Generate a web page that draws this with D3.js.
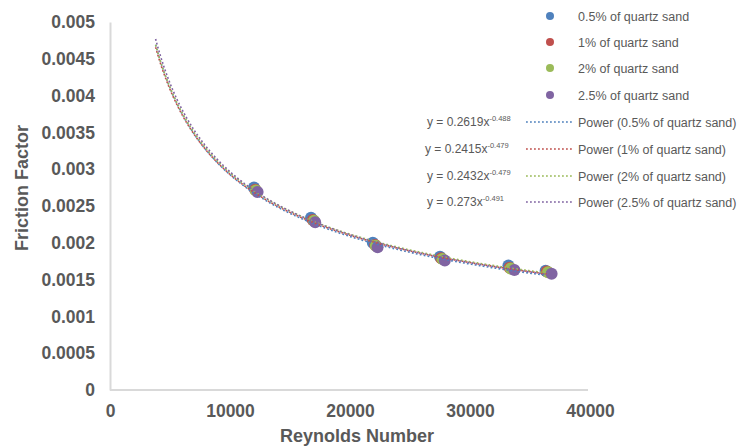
<!DOCTYPE html>
<html>
<head>
<meta charset="utf-8">
<script src="https://cdn.jsdelivr.net/npm/d3@7"></script>
<style>
  body { margin: 0; background: #fff; }
  svg { font-family: "Liberation Sans", Arial, sans-serif; }
</style>
</head>
<body>
<svg id="chart"></svg>
<script>
// series names and measured points (Reynolds number, friction factor)
const seriesNames = ["0.5% of quartz sand", "1% of quartz sand", "2% of quartz sand", "2.5% of quartz sand"];
const reynolds = [
  [12000, 16750, 21900, 27500, 33200, 36300],
  [12100, 16900, 22100, 27600, 33300, 36400],
  [12150, 17000, 22150, 27700, 33400, 36500],
  [12300, 17100, 22300, 27900, 33700, 36800]
];
const friction = [
  [0.00275, 0.00234, 0.00200, 0.00181, 0.00169, 0.00162],
  [0.00272, 0.00231, 0.00197, 0.00179, 0.00166, 0.00161],
  [0.00271, 0.00230, 0.00196, 0.00178, 0.00165, 0.00160],
  [0.00269, 0.00228, 0.00194, 0.00176, 0.00163, 0.00158]
];
// power trendlines y = a * x^b (from the chart's equations)
const trendA = [0.2619, 0.2415, 0.2432, 0.273];
const trendB = [-0.488, -0.479, -0.479, -0.491];
const trendALabel = ["0.2619", "0.2415", "0.2432", "0.273"];
const trendBLabel = ["-0.488", "-0.479", "-0.479", "-0.491"];
const trendFrom = 3800;
const xTicks = [0, 10000, 20000, 30000, 40000];
const yTicks = [0, 0.0005, 0.001, 0.0015, 0.002, 0.0025, 0.003, 0.0035, 0.004, 0.0045, 0.005];
const colors = ["#4F81BD", "#C0504D", "#9BBB59", "#8064A2"];

const width = 741, height = 448;
const svg = d3.select("#chart").attr("width", width).attr("height", height);

const x = d3.scaleLinear().domain([0, 40000]).range([110, 590]);
const y = d3.scaleLinear().domain([0, 0.005]).range([390, 22]);

const textColor = "#595959";

// axes
const xAxis = svg.append("g")
  .attr("transform", "translate(0,390)")
  .call(d3.axisBottom(x).tickValues(xTicks).tickSize(0).tickPadding(15).tickFormat(d3.format("d")));
xAxis.select(".domain").attr("stroke", "#d9d9d9").attr("stroke-width", 2).attr("d", "M110,0H588");
xAxis.selectAll("text").attr("fill", textColor).attr("font-size", 17.5).attr("font-weight", "bold")
  .attr("font-family", "Liberation Sans, Arial, sans-serif");

const yAxis = svg.append("g")
  .attr("transform", "translate(110,0)")
  .call(d3.axisLeft(y).tickValues(yTicks).tickSize(0).tickPadding(15).tickFormat(d => d === 0 ? "0" : String(+d.toFixed(4))));
yAxis.select(".domain").attr("stroke", "#d9d9d9").attr("stroke-width", 2);
yAxis.selectAll("text").attr("fill", textColor).attr("font-size", 17.5).attr("font-weight", "bold")
  .attr("font-family", "Liberation Sans, Arial, sans-serif");

// axis titles
svg.append("text")
  .attr("x", 357).attr("y", 442)
  .attr("text-anchor", "middle")
  .attr("fill", textColor).attr("font-size", 18).attr("font-weight", "bold")
  .text("Reynolds Number");

svg.append("text")
  .attr("transform", "translate(28,188) rotate(-90)")
  .attr("text-anchor", "middle")
  .attr("fill", textColor).attr("font-size", 18).attr("font-weight", "bold")
  .text("Friction Factor");

// markers
seriesNames.forEach((name, i) => {
  svg.append("g").selectAll("circle")
    .data(reynolds[i].map((r, j) => [r, friction[i][j]]))
    .enter().append("circle")
    .attr("cx", d => x(d[0]))
    .attr("cy", d => y(d[1]))
    .attr("r", 6)
    .attr("fill", colors[i]);
});

// trendlines
const line = d3.line().x(d => x(d[0])).y(d => y(d[1]));
seriesNames.forEach((name, i) => {
  const xs = d3.range(trendFrom, d3.max(reynolds[i]), 100).concat([d3.max(reynolds[i])]);
  const pts = xs.map(v => [v, trendA[i] * Math.pow(v, trendB[i])]);
  svg.append("path")
    .attr("d", line(pts))
    .attr("fill", "none")
    .attr("stroke", colors[i])
    .attr("stroke-width", 1.6)
    .attr("stroke-dasharray", "1.8,2.2");
});

// legend: markers
const legendMarkers = [16, 42, 68, 95];
seriesNames.forEach((name, i) => {
  svg.append("circle").attr("cx", 550).attr("cy", legendMarkers[i]).attr("r", 4).attr("fill", colors[i]);
  svg.append("text").attr("x", 578).attr("y", legendMarkers[i] + 4.5)
    .attr("fill", textColor).attr("font-size", 12.5).text(name);
});

// legend: trendlines
const legendTrend = [122, 149, 176, 202];
seriesNames.forEach((name, i) => {
  const ly = legendTrend[i];
  const eq = svg.append("text").attr("x", i === 1 ? 425 : 427).attr("y", ly + 4)
    .attr("fill", textColor).attr("font-size", 12);
  eq.append("tspan").text("y = " + trendALabel[i] + "x");
  eq.append("tspan").attr("dy", -5).attr("font-size", 7.5).text(trendBLabel[i]);

  svg.append("line")
    .attr("x1", 526).attr("x2", 572).attr("y1", ly).attr("y2", ly)
    .attr("stroke", colors[i]).attr("stroke-width", 1.6)
    .attr("stroke-dasharray", "1.8,2.2");

  svg.append("text").attr("x", 578).attr("y", ly + 4.5)
    .attr("fill", textColor).attr("font-size", 12.5).text("Power (" + name + ")");
});
</script>
</body>
</html>
